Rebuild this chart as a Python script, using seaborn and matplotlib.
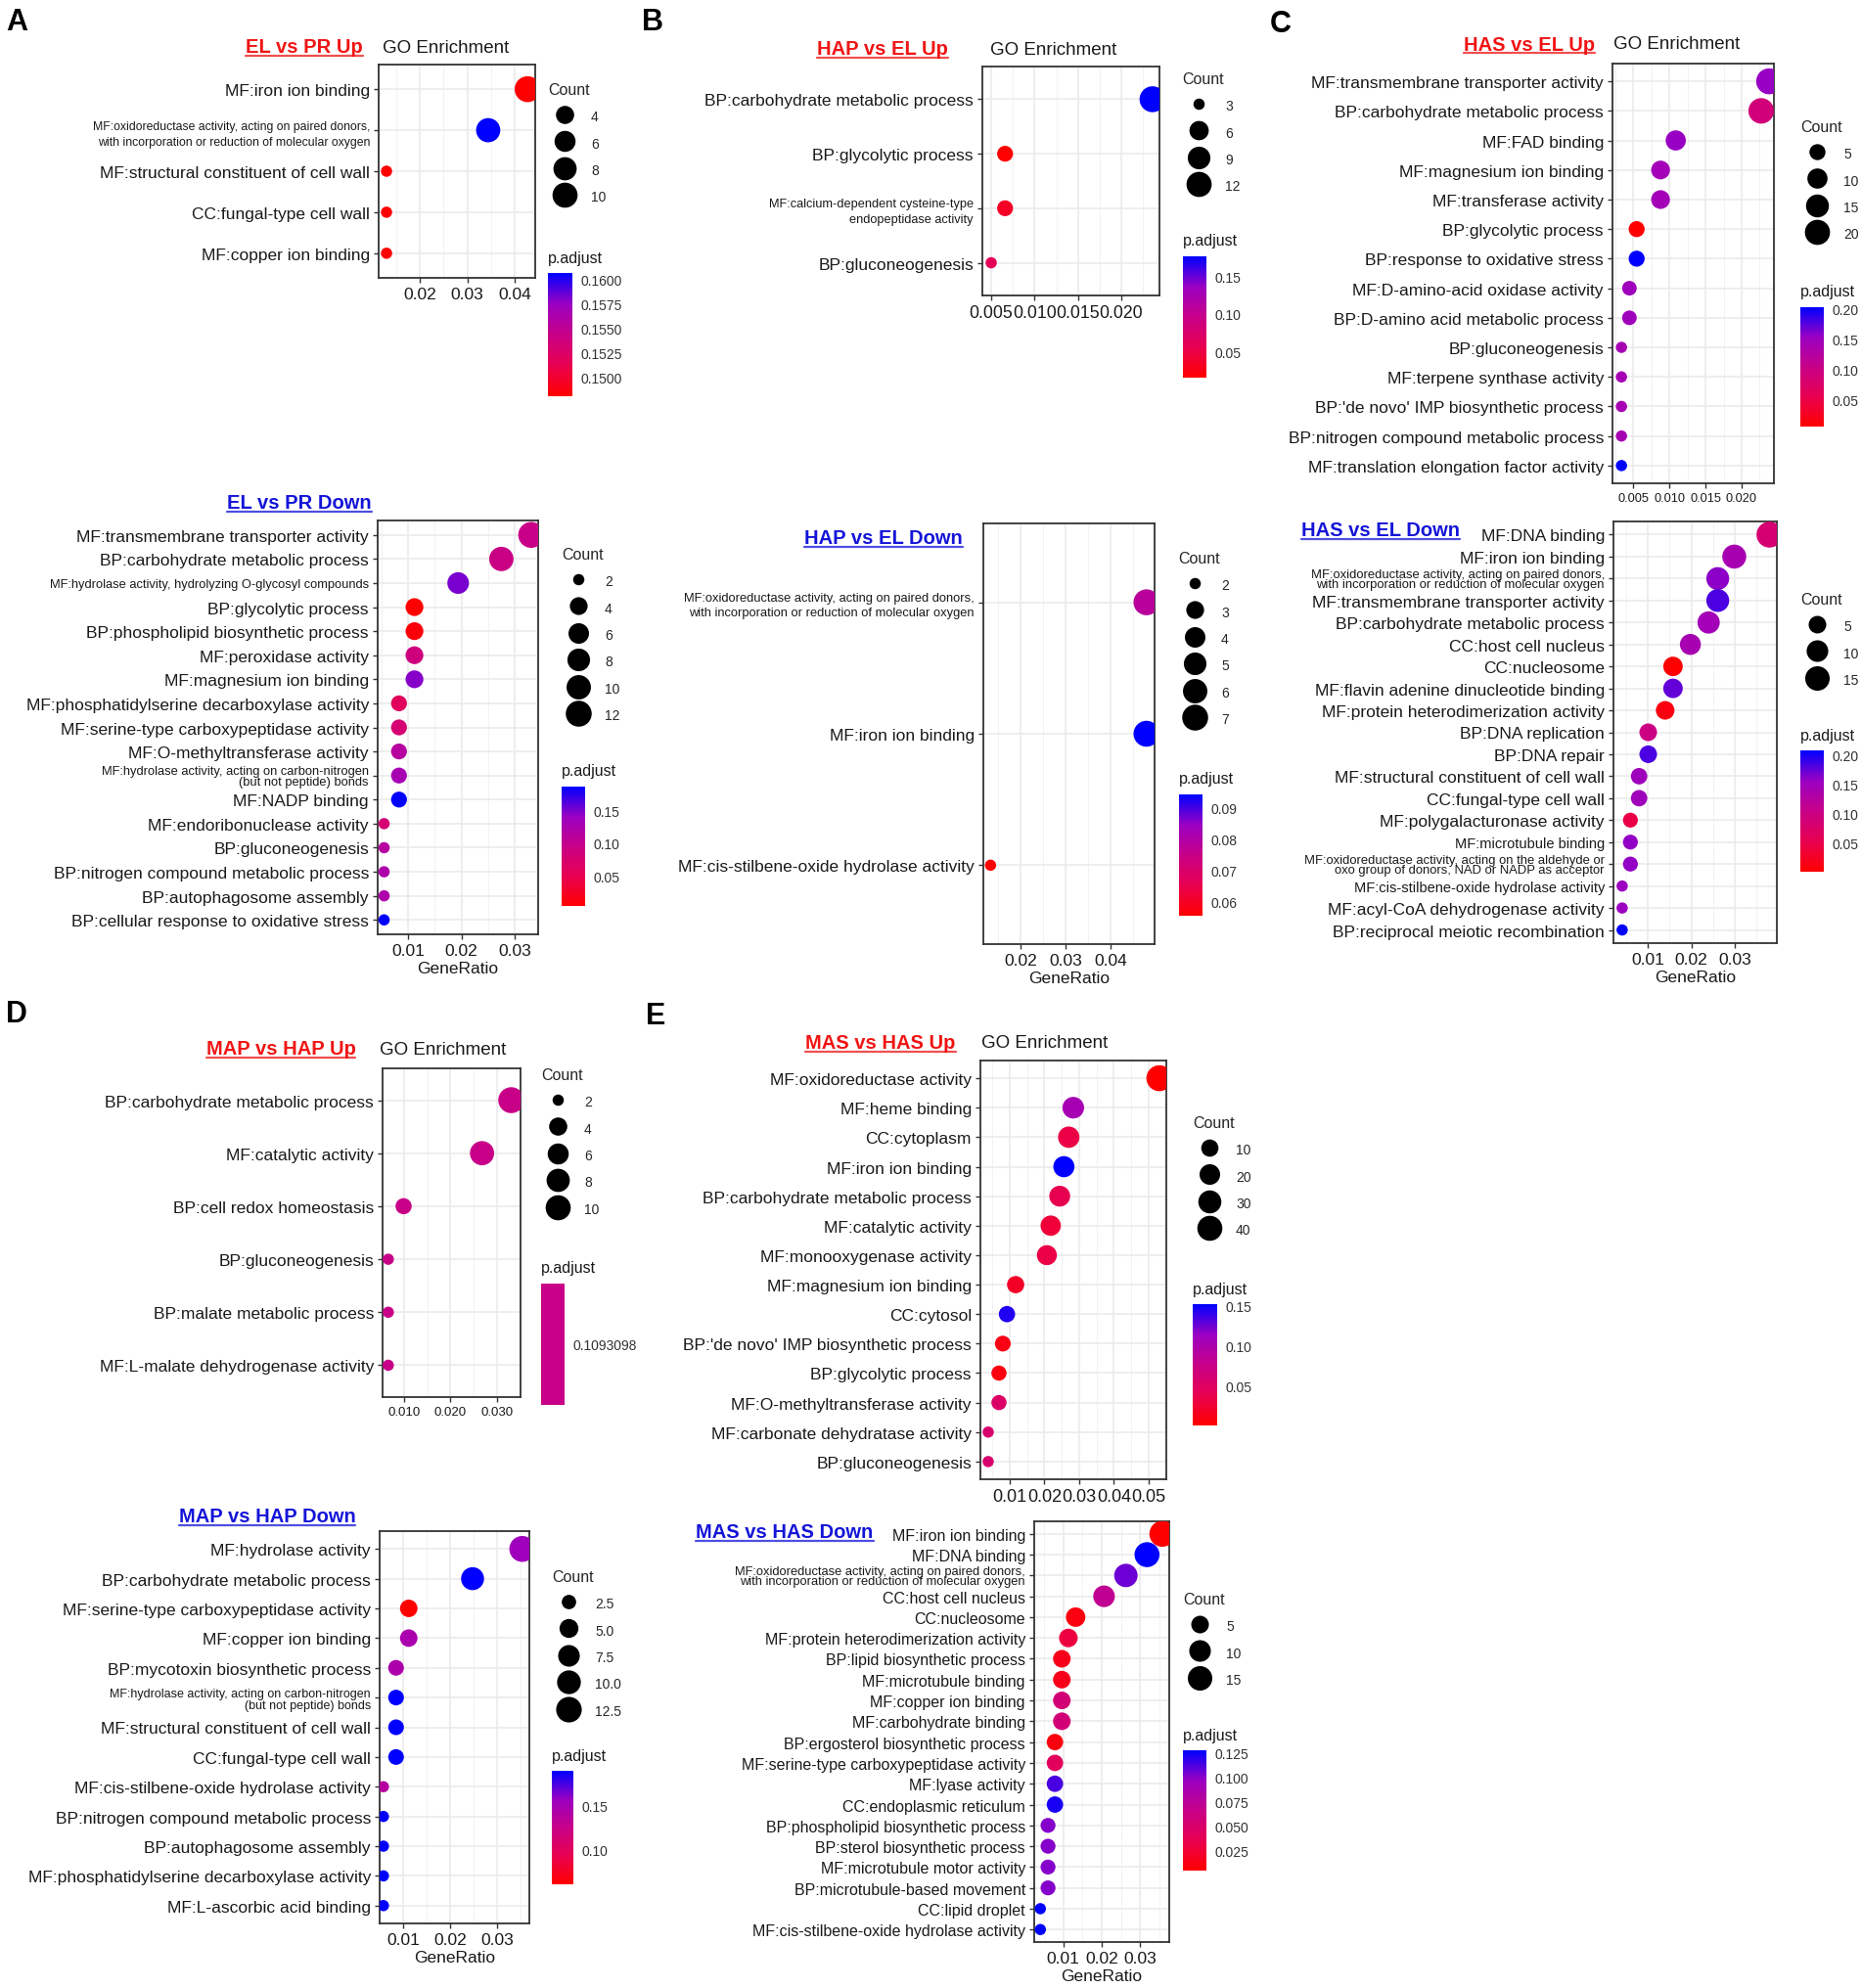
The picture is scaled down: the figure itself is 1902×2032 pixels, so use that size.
"""GO enrichment dot plots (five comparisons, up / down), ggplot-like style."""

import numpy as np
import pandas as pd
import matplotlib
matplotlib.use("Agg")
import matplotlib.pyplot as plt
import seaborn as sns
from matplotlib.colors import LinearSegmentedColormap, ListedColormap, Normalize
from matplotlib.lines import Line2D
from matplotlib.ticker import FixedLocator, MultipleLocator
from matplotlib.transforms import IdentityTransform

sns.set_theme(style="white")
plt.rcParams["font.family"] = ["Liberation Sans", "DejaVu Sans"]

W, H = 1902, 2033

OXI_PAIRED = "MF:oxidoreductase activity, acting on paired donors,\nwith incorporation or reduction of molecular oxygen"
HYD_CN = "MF:hydrolase activity, acting on carbon-nitrogen\n(but not peptide) bonds"

# ---- A: EL vs PR ----
el_pr_up_terms = ["MF:iron ion binding", OXI_PAIRED, "MF:structural constituent of cell wall",
                  "CC:fungal-type cell wall", "MF:copper ion binding"]
el_pr_up_ratio = [0.0427, 0.0344, 0.0130, 0.0130, 0.0130]
el_pr_up_count = [11, 9, 2, 2, 2]
el_pr_up_padj = [0.1480, 0.1607, 0.1480, 0.1480, 0.1480]

el_pr_down_terms = ["MF:transmembrane transporter activity", "BP:carbohydrate metabolic process",
                    "MF:hydrolase activity, hydrolyzing O-glycosyl compounds", "BP:glycolytic process",
                    "BP:phospholipid biosynthetic process", "MF:peroxidase activity",
                    "MF:magnesium ion binding", "MF:phosphatidylserine decarboxylase activity",
                    "MF:serine-type carboxypeptidase activity", "MF:O-methyltransferase activity",
                    HYD_CN, "MF:NADP binding", "MF:endoribonuclease activity", "BP:gluconeogenesis",
                    "BP:nitrogen compound metabolic process", "BP:autophagosome assembly",
                    "BP:cellular response to oxidative stress"]
el_pr_down_ratio = [0.0331, 0.0275, 0.0194, 0.0112, 0.0112, 0.0112, 0.0112, 0.0083, 0.0083,
                    0.0083, 0.0083, 0.0083, 0.0055, 0.0055, 0.0055, 0.0055, 0.0055]
el_pr_down_count = [12, 10, 7, 4, 4, 4, 4, 3, 3, 3, 3, 3, 2, 2, 2, 2, 2]
el_pr_down_padj = [0.095, 0.092, 0.150, 0.004, 0.010, 0.086, 0.146, 0.059, 0.077, 0.113,
                   0.128, 0.186, 0.077, 0.113, 0.122, 0.122, 0.186]

# ---- B: HAP vs EL ----
hap_el_up_terms = ["BP:carbohydrate metabolic process", "BP:glycolytic process",
                   "MF:calcium-dependent cysteine-type\nendopeptidase activity", "BP:gluconeogenesis"]
hap_el_up_ratio = [0.0236, 0.0066, 0.0066, 0.0050]
hap_el_up_count = [13, 4, 4, 3]
hap_el_up_padj = [0.176, 0.015, 0.035, 0.060]

hap_el_down_terms = [OXI_PAIRED, "MF:iron ion binding", "MF:cis-stilbene-oxide hydrolase activity"]
hap_el_down_ratio = [0.0480, 0.0480, 0.0133]
hap_el_down_count = [7, 7, 2]
hap_el_down_padj = [0.078, 0.0944, 0.0553]

# ---- C: HAS vs EL ----
has_el_up_terms = ["MF:transmembrane transporter activity", "BP:carbohydrate metabolic process",
                   "MF:FAD binding", "MF:magnesium ion binding", "MF:transferase activity",
                   "BP:glycolytic process", "BP:response to oxidative stress",
                   "MF:D-amino-acid oxidase activity", "BP:D-amino acid metabolic process",
                   "BP:gluconeogenesis", "MF:terpene synthase activity",
                   "BP:'de novo' IMP biosynthetic process", "BP:nitrogen compound metabolic process",
                   "MF:translation elongation factor activity"]
has_el_up_ratio = [0.0238, 0.0227, 0.0109, 0.0088, 0.0088, 0.0055, 0.0055, 0.0045, 0.0045,
                   0.0034, 0.0034, 0.0034, 0.0034, 0.0034]
has_el_up_count = [22, 21, 10, 8, 8, 5, 5, 4, 4, 3, 3, 3, 3, 3]
has_el_up_padj = [0.153, 0.090, 0.153, 0.143, 0.143, 0.005, 0.202, 0.147, 0.147, 0.140,
                  0.140, 0.140, 0.140, 0.202]

has_el_down_terms = ["MF:DNA binding", "MF:iron ion binding", OXI_PAIRED,
                     "MF:transmembrane transporter activity", "BP:carbohydrate metabolic process",
                     "CC:host cell nucleus", "CC:nucleosome", "MF:flavin adenine dinucleotide binding",
                     "MF:protein heterodimerization activity", "BP:DNA replication", "BP:DNA repair",
                     "MF:structural constituent of cell wall", "CC:fungal-type cell wall",
                     "MF:polygalacturonase activity", "MF:microtubule binding",
                     "MF:oxidoreductase activity, acting on the aldehyde or\noxo group of donors, NAD or NADP as acceptor",
                     "MF:cis-stilbene-oxide hydrolase activity", "MF:acyl-CoA dehydrogenase activity",
                     "BP:reciprocal meiotic recombination"]
has_el_down_ratio = [0.0380, 0.0299, 0.0261, 0.0261, 0.0240, 0.0198, 0.0158, 0.0158, 0.0140,
                     0.0101, 0.0101, 0.0080, 0.0080, 0.0060, 0.0060, 0.0060, 0.0041, 0.0041, 0.0041]
has_el_down_count = [18, 14, 12, 12, 11, 9, 7, 7, 6, 5, 5, 4, 4, 3, 3, 3, 2, 2, 2]
has_el_down_padj = [0.084, 0.141, 0.160, 0.182, 0.146, 0.141, 0.002, 0.174, 0.012, 0.100,
                    0.182, 0.150, 0.150, 0.047, 0.158, 0.158, 0.154, 0.154, 0.207]

# ---- D: MAP vs HAP ----
map_hap_up_terms = ["BP:carbohydrate metabolic process", "MF:catalytic activity",
                    "BP:cell redox homeostasis", "BP:gluconeogenesis", "BP:malate metabolic process",
                    "MF:L-malate dehydrogenase activity"]
map_hap_up_ratio = [0.0331, 0.0268, 0.0099, 0.0066, 0.0066, 0.0066]
map_hap_up_count = [11, 9, 3, 2, 2, 2]
map_hap_up_padj = [0.1093098, 0.1093098, 0.1093098, 0.1093098, 0.1093098, 0.1093098]

map_hap_down_terms = ["MF:hydrolase activity", "BP:carbohydrate metabolic process",
                      "MF:serine-type carboxypeptidase activity", "MF:copper ion binding",
                      "BP:mycotoxin biosynthetic process", HYD_CN,
                      "MF:structural constituent of cell wall", "CC:fungal-type cell wall",
                      "MF:cis-stilbene-oxide hydrolase activity", "BP:nitrogen compound metabolic process",
                      "BP:autophagosome assembly", "MF:phosphatidylserine decarboxylase activity",
                      "MF:L-ascorbic acid binding"]
map_hap_down_ratio = [0.0354, 0.0248, 0.0112, 0.0112, 0.0085, 0.0085, 0.0085, 0.0085, 0.0058,
                      0.0058, 0.0058, 0.0058, 0.0058]
map_hap_down_count = [13, 9, 4, 4, 3, 3, 3, 3, 2, 2, 2, 2, 2]
map_hap_down_padj = [0.154, 0.190, 0.061, 0.146, 0.145, 0.190, 0.190, 0.190, 0.138, 0.190,
                     0.190, 0.190, 0.190]

# ---- E: MAS vs HAS ----
mas_has_up_terms = ["MF:oxidoreductase activity", "MF:heme binding", "CC:cytoplasm",
                    "MF:iron ion binding", "BP:carbohydrate metabolic process", "MF:catalytic activity",
                    "MF:monooxygenase activity", "MF:magnesium ion binding", "CC:cytosol",
                    "BP:'de novo' IMP biosynthetic process", "BP:glycolytic process",
                    "MF:O-methyltransferase activity", "MF:carbonate dehydratase activity",
                    "BP:gluconeogenesis"]
mas_has_up_ratio = [0.0531, 0.0283, 0.0270, 0.0256, 0.0244, 0.0218, 0.0207, 0.0117, 0.0092,
                    0.0080, 0.0069, 0.0069, 0.0038, 0.0038]
mas_has_up_count = [45, 24, 23, 22, 21, 19, 18, 10, 8, 7, 6, 6, 3, 3]
mas_has_up_padj = [0.001, 0.104, 0.034, 0.152, 0.039, 0.028, 0.034, 0.019, 0.144, 0.010,
                   0.008, 0.054, 0.058, 0.058]

mas_has_down_terms = ["MF:iron ion binding", "MF:DNA binding", OXI_PAIRED, "CC:host cell nucleus",
                      "CC:nucleosome", "MF:protein heterodimerization activity",
                      "BP:lipid biosynthetic process", "MF:microtubule binding", "MF:copper ion binding",
                      "MF:carbohydrate binding", "BP:ergosterol biosynthetic process",
                      "MF:serine-type carboxypeptidase activity", "MF:lyase activity",
                      "CC:endoplasmic reticulum", "BP:phospholipid biosynthetic process",
                      "BP:sterol biosynthetic process", "MF:microtubule motor activity",
                      "BP:microtubule-based movement", "CC:lipid droplet",
                      "MF:cis-stilbene-oxide hydrolase activity"]
mas_has_down_ratio = [0.0358, 0.0318, 0.0263, 0.0206, 0.0132, 0.0113, 0.0096, 0.0096, 0.0096,
                      0.0096, 0.0078, 0.0078, 0.0078, 0.0078, 0.0060, 0.0060, 0.0060, 0.0060,
                      0.0040, 0.0040]
mas_has_down_count = [18, 16, 13, 10, 7, 6, 5, 5, 5, 5, 4, 4, 4, 4, 3, 3, 3, 3, 2, 2]
mas_has_down_padj = [0.004, 0.128, 0.106, 0.072, 0.010, 0.029, 0.014, 0.014, 0.056, 0.056,
                     0.010, 0.041, 0.113, 0.123, 0.101, 0.101, 0.101, 0.101, 0.128, 0.128]

# red -> blue gradient interpolated in Lab like ggplot's scale_color_gradient
gradient = LinearSegmentedColormap.from_list(
    "redblue", ["#FF0000", "#E80050", "#C80088", "#9A00C2", "#0000FF"])

RED, BLUE = "#F01414", "#1414D8"
TXT = "#1a1a1a"
D_MIN, D_MAX = 11.5, 26.5  # point diameter range in px


def size_pt(c, cmin, cmax):
    t = 0.0 if cmax == cmin else (c - cmin) / (cmax - cmin)
    t = min(max(t, 0.0), 1.0)
    return (D_MIN + (D_MAX - D_MIN) * np.sqrt(t)) * 0.72


panels = [
    dict(data=(el_pr_up_terms, el_pr_up_ratio, el_pr_up_count, el_pr_up_padj),
         box=(387, 67, 547, 285), xlim=(0.01134, 0.0443), xticks=[0.02, 0.03, 0.04],
         xlabels=["0.02", "0.03", "0.04"], xfs=12.5, minor=0.005,
         title="EL vs PR Up", up=True, title_xy=(311, 49), go_x=391, xlabel=False,
         count_xy=(560, 94), breaks=[4, 6, 8, 10], blabels=["4", "6", "8", "10"],
         cbar=(560, 280, 585, 406), cticks=[0.15, 0.1525, 0.155, 0.1575, 0.16],
         clabels=["0.1500", "0.1525", "0.1550", "0.1575", "0.1600"], ptitle_y=265,
         yfs=12.5, small={OXI_PAIRED: 8.8}, small_ls=1.5),
    dict(data=(el_pr_down_terms, el_pr_down_ratio, el_pr_down_count, el_pr_down_padj),
         box=(386, 533, 550, 956), xlim=(0.0043, 0.0344), xticks=[0.01, 0.02, 0.03],
         xlabels=["0.01", "0.02", "0.03"], xfs=12.5, minor=0.005,
         title="EL vs PR Down", up=False, title_xy=(306, 515), go_x=None, xlabel=True,
         count_xy=(574, 569), breaks=[2, 4, 6, 8, 10, 12], blabels=["2", "4", "6", "8", "10", "12"],
         cbar=(574, 805, 598, 927), cticks=[0.05, 0.10, 0.15],
         clabels=["0.05", "0.10", "0.15"], ptitle_y=789,
         yfs=12.5, small={"MF:hydrolase activity, hydrolyzing O-glycosyl compounds": 9.3, HYD_CN: 9.3},
         small_ls=0.9),
    dict(data=(hap_el_up_terms, hap_el_up_ratio, hap_el_up_count, hap_el_up_padj),
         box=(1004, 69, 1185, 303), xlim=(0.00398, 0.0244), xticks=[0.005, 0.010, 0.015, 0.020],
         xlabels=["0.005", "0.010", "0.015", "0.020"], xfs=12.7, minor=0.0025,
         title="HAP vs EL Up", up=True, title_xy=(902, 51), go_x=1012, xlabel=False,
         count_xy=(1208, 83), breaks=[3, 6, 9, 12], blabels=["3", "6", "9", "12"],
         cbar=(1209, 263, 1233, 387), cticks=[0.05, 0.10, 0.15],
         clabels=["0.05", "0.10", "0.15"], ptitle_y=247,
         yfs=12.5, small={"MF:calcium-dependent cysteine-type\nendopeptidase activity": 9.2},
         small_ls=1.4),
    dict(data=(hap_el_down_terms, hap_el_down_ratio, hap_el_down_count, hap_el_down_padj),
         box=(1005, 536, 1180, 966), xlim=(0.0117, 0.0498), xticks=[0.02, 0.03, 0.04],
         xlabels=["0.02", "0.03", "0.04"], xfs=12.5, minor=0.005,
         title="HAP vs EL Down", up=False, title_xy=(903, 551), go_x=None, xlabel=True,
         count_xy=(1204, 573), breaks=[2, 3, 4, 5, 6, 7], blabels=["2", "3", "4", "5", "6", "7"],
         cbar=(1205, 813, 1229, 937), cticks=[0.06, 0.07, 0.08, 0.09],
         clabels=["0.06", "0.07", "0.08", "0.09"], ptitle_y=797,
         yfs=12.5, small={OXI_PAIRED: 9.3}, small_ls=1.35),
    dict(data=(has_el_up_terms, has_el_up_ratio, has_el_up_count, has_el_up_padj),
         box=(1648, 66, 1813, 495), xlim=(0.00216, 0.02446), xticks=[0.005, 0.010, 0.015, 0.020],
         xlabels=["0.005", "0.010", "0.015", "0.020"], xfs=9.2, minor=0.0025,
         title="HAS vs EL Up", up=True, title_xy=(1563, 46), go_x=1649, xlabel=False,
         count_xy=(1840, 132), breaks=[5, 10, 15, 20], blabels=["5", "10", "15", "20"],
         cbar=(1840, 315, 1864, 437), cticks=[0.05, 0.10, 0.15, 0.20],
         clabels=["0.05", "0.10", "0.15", "0.20"], ptitle_y=298,
         yfs=12.5, small={}, small_ls=1.0),
    dict(data=(has_el_down_terms, has_el_down_ratio, has_el_down_count, has_el_down_padj),
         box=(1649, 534, 1816, 965), xlim=(0.0021, 0.0397), xticks=[0.01, 0.02, 0.03],
         xlabels=["0.01", "0.02", "0.03"], xfs=12.5, minor=0.005,
         title="HAS vs EL Down", up=False, title_xy=(1411, 543), go_x=None, xlabel=True,
         count_xy=(1840, 615), breaks=[5, 10, 15], blabels=["5", "10", "15"],
         cbar=(1840, 768, 1864, 892), cticks=[0.05, 0.10, 0.15, 0.20],
         clabels=["0.05", "0.10", "0.15", "0.20"], ptitle_y=753,
         yfs=12.5, small={OXI_PAIRED: 9.4, "MF:microtubule binding": 10.5,
                          "MF:oxidoreductase activity, acting on the aldehyde or\noxo group of donors, NAD or NADP as acceptor": 9.4,
                          "MF:cis-stilbene-oxide hydrolase activity": 10.5},
         small_ls=0.8),
    dict(data=(map_hap_up_terms, map_hap_up_ratio, map_hap_up_count, map_hap_up_padj),
         box=(391, 1093, 532, 1429), xlim=(0.00537, 0.0351), xticks=[0.01, 0.02, 0.03],
         xlabels=["0.010", "0.020", "0.030"], xfs=9.5, minor=0.005,
         title="MAP vs HAP Up", up=True, title_xy=(287, 1073), go_x=388, xlabel=False,
         count_xy=(553, 1101), breaks=[2, 4, 6, 8, 10], blabels=["2", "4", "6", "8", "10"],
         cbar=(553, 1313, 577, 1437), cticks=[0.1093098], clabels=["0.1093098"], ptitle_y=1297,
         yfs=12.5, small={}, small_ls=1.0),
    dict(data=(map_hap_down_terms, map_hap_down_ratio, map_hap_down_count, map_hap_down_padj),
         box=(388, 1566, 541, 1967), xlim=(0.005, 0.0369), xticks=[0.01, 0.02, 0.03],
         xlabels=["0.01", "0.02", "0.03"], xfs=12.5, minor=0.005,
         title="MAP vs HAP Down", up=False, title_xy=(273, 1551), go_x=None, xlabel=True,
         count_xy=(564, 1614), breaks=[2.5, 5, 7.5, 10, 12.5],
         blabels=["2.5", "5.0", "7.5", "10.0", "12.5"],
         cbar=(564, 1811, 586, 1927), cticks=[0.10, 0.15], clabels=["0.10", "0.15"], ptitle_y=1796,
         yfs=12.5, small={HYD_CN: 9.0}, small_ls=1.0),
    dict(data=(mas_has_up_terms, mas_has_up_ratio, mas_has_up_count, mas_has_up_padj),
         box=(1002, 1085, 1192, 1513), xlim=(0.00155, 0.0551), xticks=[0.01, 0.02, 0.03, 0.04, 0.05],
         xlabels=["0.01", "0.02", "0.03", "0.04", "0.05"], xfs=13, minor=0.005,
         title="MAS vs HAS Up", up=True, title_xy=(900, 1067), go_x=1003, xlabel=False,
         count_xy=(1219, 1150), breaks=[10, 20, 30, 40], blabels=["10", "20", "30", "40"],
         cbar=(1219, 1334, 1244, 1458), cticks=[0.05, 0.10, 0.15],
         clabels=["0.05", "0.10", "0.15"], ptitle_y=1318,
         yfs=12.5, small={}, small_ls=1.0),
    dict(data=(mas_has_down_terms, mas_has_down_ratio, mas_has_down_count, mas_has_down_padj),
         box=(1057, 1556, 1195, 1986), xlim=(0.0024, 0.0376), xticks=[0.01, 0.02, 0.03],
         xlabels=["0.01", "0.02", "0.03"], xfs=12.5, minor=0.005,
         title="MAS vs HAS Down", up=False, title_xy=(802, 1567), go_x=None, xlabel=True,
         count_xy=(1209, 1637), breaks=[5, 10, 15], blabels=["5", "10", "15"],
         cbar=(1209, 1790, 1233, 1913), cticks=[0.025, 0.05, 0.075, 0.10, 0.125],
         clabels=["0.025", "0.050", "0.075", "0.100", "0.125"], ptitle_y=1775,
         yfs=11.5, small={OXI_PAIRED: 9.3}, small_ls=0.8),
]

fig = plt.figure(figsize=(W / 100, H / 100), dpi=100)
fig.patch.set_facecolor("white")

titles = []
for p in panels:
    terms, ratio, count, padj = p["data"]
    df = pd.DataFrame({"term": terms, "GeneRatio": ratio, "Count": count, "p.adjust": padj})
    l, t, r, b = p["box"]
    ax = fig.add_axes([l / W, 1 - b / H, (r - l) / W, (b - t) / H])

    lo, hi = min(padj), max(padj)
    hue_norm = (lo - 0.05, hi + 0.05) if lo == hi else (lo, hi)
    cmin, cmax = min(count), max(count)
    sizes = {c: size_pt(c, cmin, cmax) ** 2 for c in sorted(set(count))}

    sns.scatterplot(data=df, x="GeneRatio", y="term", hue="p.adjust", size="Count",
                    palette=gradient, hue_norm=hue_norm, sizes=sizes, legend=False,
                    linewidth=0, ax=ax, zorder=3)

    n = len(terms)
    ax.set_ylim(n - 0.4, -0.6)
    ax.set_xlim(*p["xlim"])
    ax.set_yticks(range(n))
    ax.set_yticklabels(terms, fontsize=p["yfs"], color=TXT)
    for lab in ax.get_yticklabels():
        if lab.get_text() in p["small"]:
            lab.set_fontsize(p["small"][lab.get_text()])
            lab.set_linespacing(p["small_ls"])
    ax.xaxis.set_major_locator(FixedLocator(p["xticks"]))
    ax.set_xticklabels(p["xlabels"], fontsize=p["xfs"], color=TXT)
    ax.xaxis.set_minor_locator(MultipleLocator(p["minor"]))

    ax.set_facecolor("white")
    ax.set_axisbelow(True)
    ax.grid(True, which="major", color="#EBEBEB", linewidth=1.2)
    ax.grid(True, which="minor", axis="x", color="#F2F2F2", linewidth=0.7)
    for s in ax.spines.values():
        s.set_color("#333333")
        s.set_linewidth(1.3)
    ax.tick_params(axis="both", which="major", length=3.5, width=1, color="#333333",
                   bottom=True, left=True, pad=3)
    ax.tick_params(axis="x", which="minor", length=0)
    ax.set_ylabel("")
    if p["xlabel"]:
        ax.set_xlabel("GeneRatio", fontsize=12.5, color=TXT, labelpad=2)
    else:
        ax.set_xlabel("")

    # panel title
    tx, ty = p["title_xy"]
    col = RED if p["up"] else BLUE
    tt = fig.text(tx / W, 1 - ty / H, p["title"], color=col, fontsize=14.5,
                  fontweight="bold", ha="center", va="center")
    titles.append((tt, col))
    if p["go_x"] is not None:
        fig.text(p["go_x"] / W, 1 - ty / H, "GO Enrichment", color=TXT, fontsize=13.5,
                 ha="left", va="center")

    # Count legend
    cx, cy = p["count_xy"]
    handles = [Line2D([], [], ls="", marker="o", markersize=size_pt(v, cmin, cmax),
                      color="black", markeredgewidth=0) for v in p["breaks"]]
    ax.legend(handles, p["blabels"], title="Count", loc="upper left",
              bbox_to_anchor=(cx / W, 1 - (cy - 9) / H), bbox_transform=fig.transFigure,
              frameon=False, fontsize=10, title_fontsize=11.5, alignment="left",
              borderpad=0, borderaxespad=0, labelspacing=0.85, handleheight=1.35,
              handlelength=2.45, handletextpad=0.72)

    # p.adjust colourbar
    bl, bt, br, bb = p["cbar"]
    cax = fig.add_axes([bl / W, 1 - bb / H, (br - bl) / W, (bb - bt) / H])
    if lo == hi:
        sm = plt.cm.ScalarMappable(norm=Normalize(lo - 0.001, hi + 0.001),
                                   cmap=ListedColormap([gradient(0.5)]))
    else:
        sm = plt.cm.ScalarMappable(norm=Normalize(lo, hi), cmap=gradient)
    cb = fig.colorbar(sm, cax=cax, ticks=p["cticks"])
    cb.outline.set_visible(False)
    cb.minorticks_off()
    cb.ax.set_yticklabels(p["clabels"])
    cax.tick_params(axis="y", which="major", direction="in", length=5, width=1,
                    colors="white", labelcolor="#333333", labelsize=10, left=True,
                    right=True, pad=6)
    fig.text(bl / W, 1 - p["ptitle_y"] / H, "p.adjust", fontsize=11.5, color=TXT,
             ha="left", va="center")

# panel letters
for letter, x, y in [("A", 6, 8), ("B", 656, 8), ("C", 1298, 10), ("D", 6, 1022), ("E", 660, 1024)]:
    fig.text(x / W, 1 - y / H, letter, fontsize=22, fontweight="bold", color="black",
             ha="left", va="top")

# underline the coloured comparison titles
renderer = fig.canvas.get_renderer()
for tt, col in titles:
    bb = tt.get_window_extent(renderer)
    fig.add_artist(Line2D([bb.x0, bb.x1], [bb.y0 + 1, bb.y0 + 1], transform=IdentityTransform(),
                          color=col, linewidth=1.6, alpha=0.75))

fig.savefig("out.png", dpi=100, facecolor="white")
print("saved out.png")
